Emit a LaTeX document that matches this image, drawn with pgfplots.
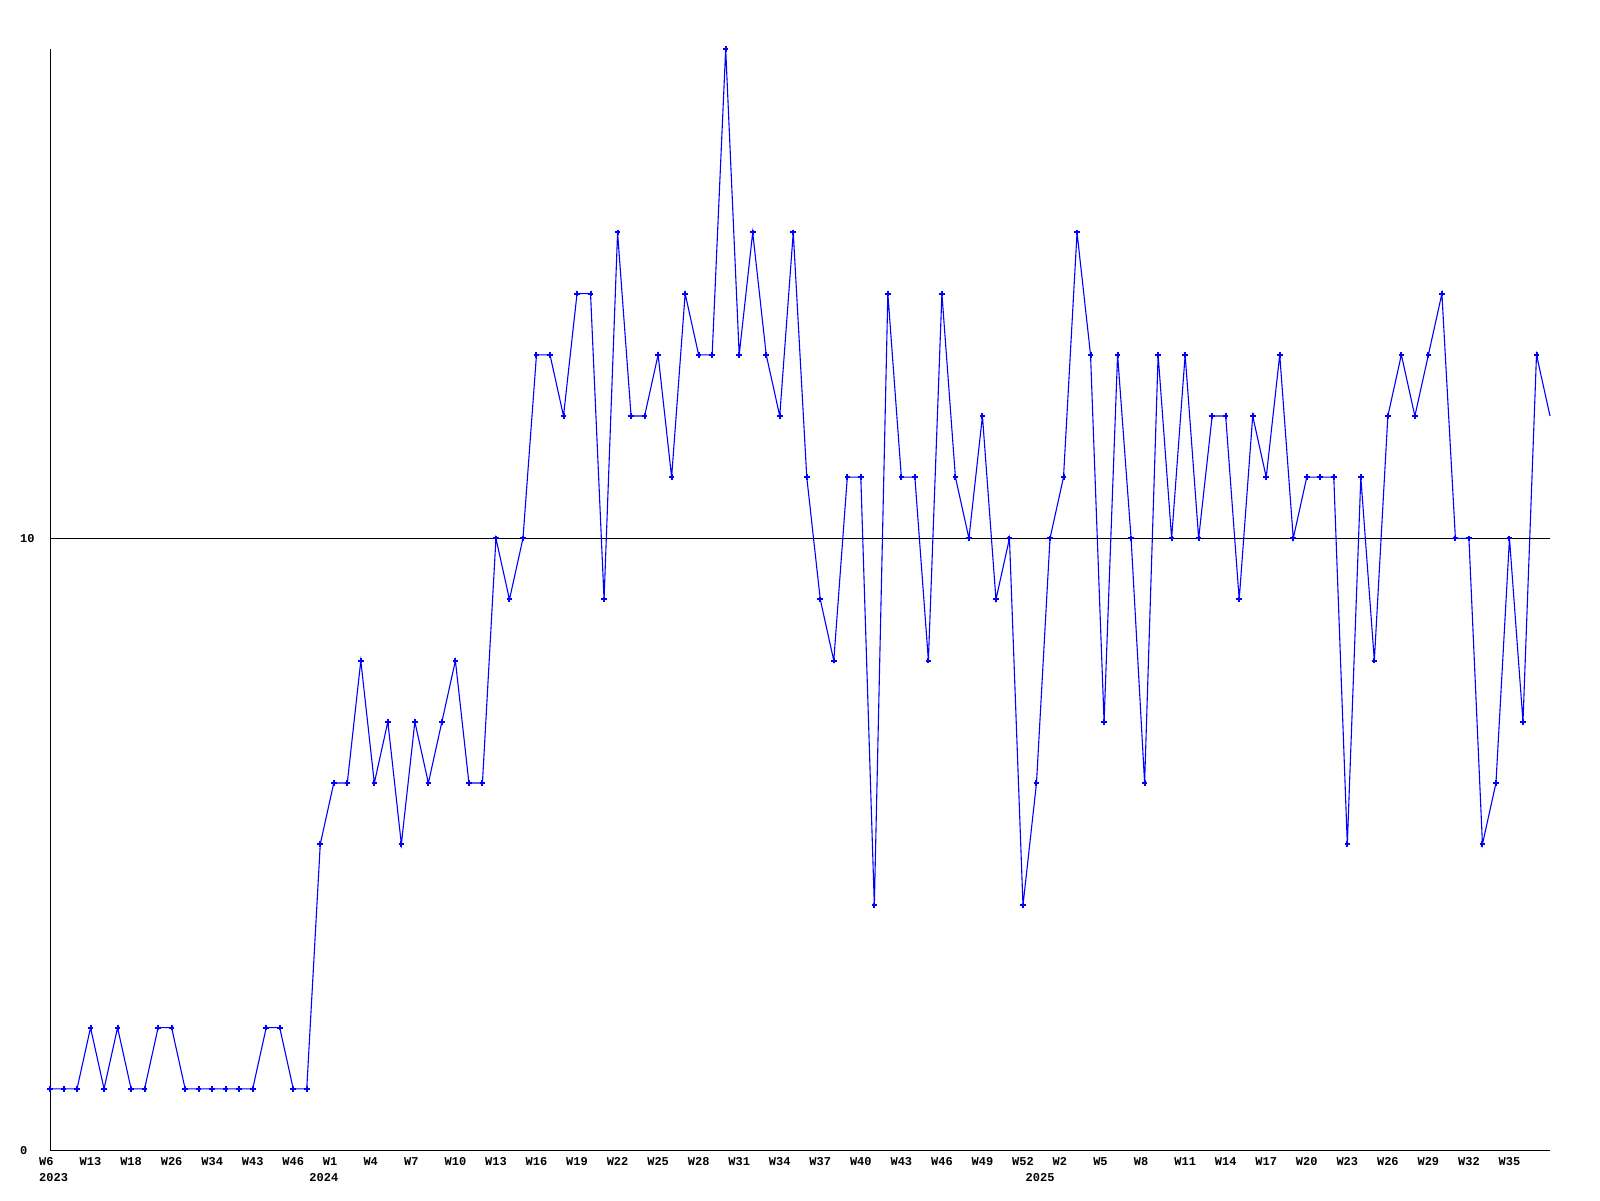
\documentclass[border=0pt]{standalone}
\usepackage{fontspec}
\setmonofont{Liberation Mono}
\usepackage{pgfplots}
\pgfplotsset{compat=1.18}

\newcommand{\lblfont}{\ttfamily\bfseries\fontsize{12}{12}\selectfont}

\begin{document}
\begin{tikzpicture}[x=1pt,y=1pt]
\useasboundingbox (0,0) rectangle (1600,1200);
\begin{axis}[
  at={(50pt,50pt)}, anchor=south west,
  width=1500pt, height=1101pt, scale only axis,
  xmin=0, xmax=111, ymin=0, ymax=18,
  axis lines=left,
  axis line style={-, black, line width=1pt},
  major tick length=0pt,
  xtick={0,3,...,108},
  xticklabels={W6,W13,W18,W26,W34,W43,W46,W1,W4,W7,W10,W13,W16,W19,W22,W25,W28,W31,W34,W37,W40,W43,W46,W49,W52,W2,W5,W8,W11,W14,W17,W20,W23,W26,W29,W32,W35},
  ytick={0,10}, yticklabels={0,10},
  ymajorgrids, major grid style={black, line width=0.9pt},
  tick label style={font=\lblfont, inner sep=0pt},
  xticklabel style={anchor=base west, xshift=-11pt, yshift=-15pt},
  yticklabel style={anchor=base west, xshift=-30pt, yshift=-4pt},
  clip=false,
]
\addplot[color=blue, line width=1.1pt, mark=+, mark size=2.8pt,
  mark options={line width=2pt}, mark indices={1,...,111}] coordinates {
(0,1) (1,1) (2,1) (3,2) (4,1) (5,2) (6,1) (7,1) (8,2) (9,2)
(10,1) (11,1) (12,1) (13,1) (14,1) (15,1) (16,2) (17,2) (18,1) (19,1)
(20,5) (21,6) (22,6) (23,8) (24,6) (25,7) (26,5) (27,7) (28,6) (29,7)
(30,8) (31,6) (32,6) (33,10) (34,9) (35,10) (36,13) (37,13) (38,12) (39,14)
(40,14) (41,9) (42,15) (43,12) (44,12) (45,13) (46,11) (47,14) (48,13) (49,13)
(50,18) (51,13) (52,15) (53,13) (54,12) (55,15) (56,11) (57,9) (58,8) (59,11)
(60,11) (61,4) (62,14) (63,11) (64,11) (65,8) (66,14) (67,11) (68,10) (69,12)
(70,9) (71,10) (72,4) (73,6) (74,10) (75,11) (76,15) (77,13) (78,7) (79,13)
(80,10) (81,6) (82,13) (83,10) (84,13) (85,10) (86,12) (87,12) (88,9) (89,12)
(90,11) (91,13) (92,10) (93,11) (94,11) (95,11) (96,5) (97,11) (98,8) (99,12)
(100,13) (101,12) (102,13) (103,14) (104,10) (105,10) (106,5) (107,6) (108,10) (109,7)
(110,13) (111,12)
};
\node[font=\lblfont, anchor=base west, inner sep=0pt, xshift=-11pt, yshift=-31pt] at (axis cs:0,0) {2023};
\node[font=\lblfont, anchor=base west, inner sep=0pt, xshift=-11pt, yshift=-31pt] at (axis cs:20,0) {2024};
\node[font=\lblfont, anchor=base west, inner sep=0pt, xshift=-11pt, yshift=-31pt] at (axis cs:73,0) {2025};
\end{axis}
\end{tikzpicture}
\end{document}
